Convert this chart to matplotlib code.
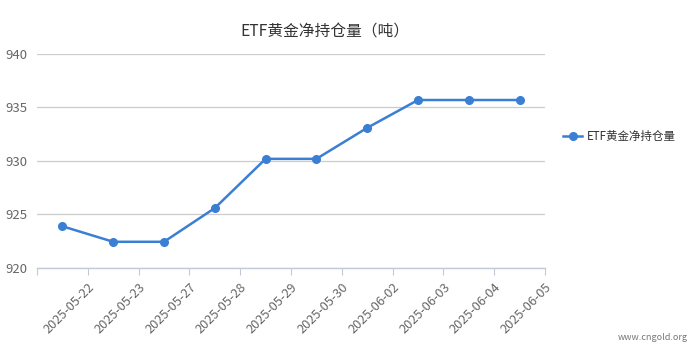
import numpy as np
import matplotlib
matplotlib.use("Agg")
from matplotlib import pyplot as plt

plt.rcParams['font.family'] = ['Noto Sans CJK SC', 'DejaVu Sans']

dates = ["2025-05-22", "2025-05-23", "2025-05-27", "2025-05-28", "2025-05-29",
         "2025-05-30", "2025-06-02", "2025-06-03", "2025-06-04", "2025-06-05"]
holdings = [923.9, 922.45, 922.45, 925.6, 930.2, 930.2, 933.1, 935.7, 935.7, 935.7]
y_ticks = [920, 925, 930, 935, 940]

blue = "#3b7fd4"

fig = plt.figure(figsize=(6.99, 3.55), dpi=100)
ax = fig.add_axes([37 / 699, 1 - 268 / 355, (545 - 37) / 699, (268 - 54) / 355])

x = np.arange(len(dates))
line, = ax.plot(x, holdings, color=blue, lw=1.8, marker="o", ms=5.5,
                label="ETF黄金净持仓量", zorder=3)

ax.set_xlim(-0.5, len(dates) - 0.5)
ax.set_ylim(y_ticks[0], y_ticks[-1])
ax.set_yticks(y_ticks)
ax.yaxis.grid(True, color="#cccccc", lw=0.9)
ax.set_axisbelow(True)

for s in ["left", "right", "top"]:
    ax.spines[s].set_visible(False)
ax.spines["bottom"].set_color("#c0cad8")
ax.spines["bottom"].set_linewidth(1.0)

ax.set_xticks(np.arange(len(dates) + 1) - 0.5)
ax.set_xticklabels([""] + dates, rotation=45, ha="right", va="top",
                   rotation_mode="anchor", fontsize=9.2, color="#666666")
ax.tick_params(axis="x", length=5, color="#c0cad8", pad=4)
ax.tick_params(axis="y", length=0, labelsize=9.5, labelcolor="#666666", pad=7)

fig.text(0.465, 1 - 32 / 355, "ETF黄金净持仓量（吨）", ha="center", va="center",
         fontsize=11.3, color="#333333")

fig.legend(handles=[line], loc="center left", bbox_to_anchor=(553 / 699, 1 - 137 / 355),
           frameon=False, fontsize=8.3, handlelength=1.6, handletextpad=0.4,
           labelcolor="#333333")

fig.text(688 / 699, 1 - 337 / 355, "www.cngold.org", ha="right", va="center",
         fontsize=6.5, color="#777777")

fig.savefig("out.png", dpi=100)
